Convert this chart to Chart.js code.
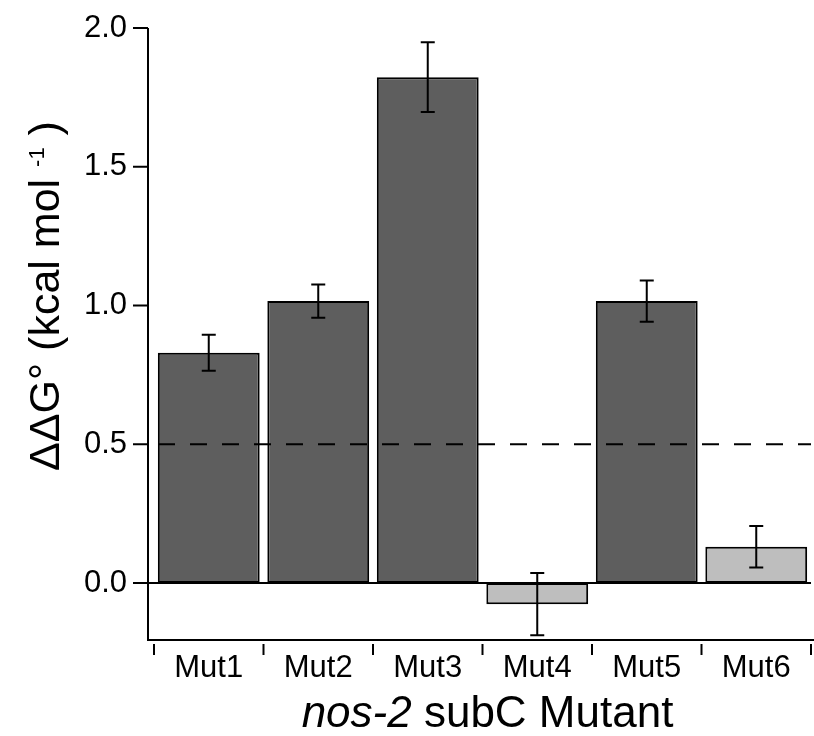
<!DOCTYPE html>
<html>
<head>
<meta charset="utf-8">
<script src="https://cdn.jsdelivr.net/npm/chart.js@4.4.1/dist/chart.umd.min.js"></script>
<style>
  html, body { margin: 0; padding: 0; background: #fff; }
  #wrap { width: 814px; height: 736px; }
</style>
</head>
<body>
<div id="wrap"><canvas id="chart" width="814" height="736"></canvas></div>
<script>
const mutants = ["Mut1", "Mut2", "Mut3", "Mut4", "Mut5", "Mut6"];
const ddG = [0.83, 1.016, 1.823, -0.076, 1.016, 0.131];
const ddGErr = [0.065, 0.06, 0.126, 0.112, 0.074, 0.075];
const threshold = 0.5;
const yTicks = [0.0, 0.5, 1.0, 1.5, 2.0];

const FONT = "'Liberation Sans', Arial, sans-serif";

function barColor(v) {
    return v < threshold ? "#bebebe" : "#5e5e5e";
}

// axes lines, error bars, dashed threshold, zero line and axis titles
const extras = {
    id: "extras",
    afterDatasetsDraw(chart) {
        const ctx = chart.ctx;
        const x = chart.scales.x;
        const y = chart.scales.y;
        const area = chart.chartArea;
        const axisX = area.left - 6;
        ctx.save();
        ctx.strokeStyle = "#000";
        ctx.lineWidth = 2;

        // y axis line and ticks
        ctx.beginPath();
        ctx.moveTo(axisX, area.top);
        ctx.lineTo(axisX, area.bottom + 1);
        yTicks.forEach((v) => {
            const ty = y.getPixelForValue(v);
            ctx.moveTo(axisX - 15, ty);
            ctx.lineTo(axisX, ty);
        });
        // x axis line
        ctx.moveTo(axisX - 1, area.bottom);
        ctx.lineTo(chart.width, area.bottom);
        ctx.stroke();

        // zero line
        const y0 = y.getPixelForValue(0);
        ctx.beginPath();
        ctx.moveTo(axisX, y0);
        ctx.lineTo(area.right, y0);
        ctx.stroke();

        // threshold line
        const yt = y.getPixelForValue(threshold);
        ctx.setLineDash([17, 15]);
        ctx.beginPath();
        ctx.moveTo(axisX + 10, yt);
        ctx.lineTo(area.right, yt);
        ctx.stroke();
        ctx.setLineDash([]);

        // error bars
        ddG.forEach((v, i) => {
            const cx = x.getPixelForValue(i);
            const top = y.getPixelForValue(v + ddGErr[i]);
            const bot = y.getPixelForValue(v - ddGErr[i]);
            ctx.beginPath();
            ctx.moveTo(cx, top);
            ctx.lineTo(cx, bot);
            ctx.moveTo(cx - 7, top);
            ctx.lineTo(cx + 7, top);
            ctx.moveTo(cx - 7, bot);
            ctx.lineTo(cx + 7, bot);
            ctx.stroke();
        });

        // category boundary ticks below the axis
        const half = (x.getPixelForValue(1) - x.getPixelForValue(0)) / 2;
        for (let i = 0; i <= mutants.length; i++) {
            const tx = x.getPixelForValue(i) - half;
            ctx.beginPath();
            ctx.moveTo(tx, area.bottom + 4);
            ctx.lineTo(tx, area.bottom + 15);
            ctx.stroke();
        }

        // x title with italic gene name
        ctx.fillStyle = "#000";
        ctx.textBaseline = "alphabetic";
        const italic = "italic 44px " + FONT;
        const normal = "44px " + FONT;
        ctx.font = italic;
        const w1 = ctx.measureText("nos-2").width;
        ctx.font = normal;
        const w2 = ctx.measureText(" subC Mutant").width;
        const sx = (area.left + area.right) / 2 + 5 - (w1 + w2) / 2;
        ctx.font = italic;
        ctx.fillText("nos-2", sx, 727);
        ctx.font = normal;
        ctx.fillText(" subC Mutant", sx + w1, 727);

        // y title with superscript
        ctx.translate(59, 296);
        ctx.rotate(-Math.PI / 2);
        const main = "ΔΔG° (kcal mol ";
        const sup = "-1";
        const close = " )";
        ctx.font = "43px " + FONT;
        const m1 = ctx.measureText(main).width;
        const m3 = ctx.measureText(close).width;
        ctx.font = "22px " + FONT;
        const m2 = ctx.measureText(sup).width;
        const px = -(m1 + m2 + m3) / 2;
        ctx.font = "43px " + FONT;
        ctx.fillText(main, px, 0);
        ctx.font = "22px " + FONT;
        ctx.fillText(sup, px + m1, -15);
        ctx.font = "43px " + FONT;
        ctx.fillText(close, px + m1 + m2, 0);

        ctx.restore();
    },
};

new Chart(document.getElementById("chart"), {
    type: "bar",
    data: {
        labels: mutants,
        datasets: [{
            data: ddG,
            backgroundColor: ddG.map(barColor),
            borderColor: "#000",
            borderWidth: 2,
            borderSkipped: false,
            barPercentage: 0.93,
            categoryPercentage: 1.0,
        }],
    },
    options: {
        responsive: false,
        animation: false,
        layout: { padding: { top: 28, right: 3, left: 0, bottom: 0 } },
        plugins: {
            legend: { display: false },
            tooltip: { enabled: false },
        },
        scales: {
            x: {
                offset: true,
                grid: { display: false, drawTicks: false },
                border: { display: false },
                ticks: { color: "#000", font: { family: FONT, size: 31 }, padding: 10 },
                afterFit: (s) => { s.height = 96; s.paddingLeft = 0; s.paddingRight = 0; },
            },
            y: {
                min: -0.205,
                max: 2.0,
                afterBuildTicks: (s) => { s.ticks = yTicks.map((v) => ({ value: v })); },
                grid: { display: false, drawTicks: false },
                border: { display: false },
                ticks: {
                    color: "#000",
                    font: { family: FONT, size: 31 },
                    padding: 27,
                    callback: (v) => Number(v).toFixed(1),
                },
                afterFit: (s) => { s.width = 154; s.paddingTop = 0; s.paddingBottom = 0; },
            },
        },
    },
    plugins: [extras],
});
</script>
</body>
</html>
